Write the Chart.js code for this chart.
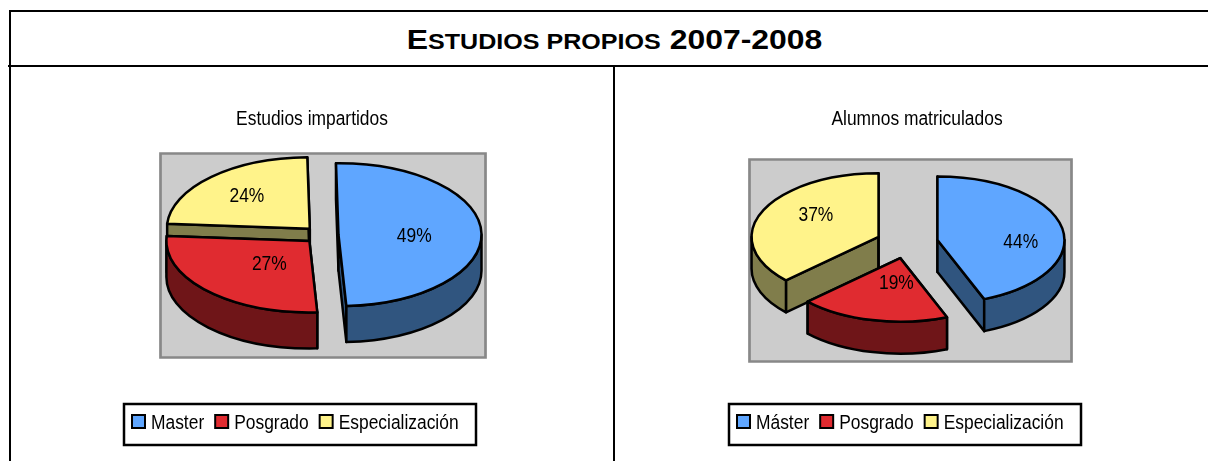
<!DOCTYPE html>
<html lang="es">
<head>
<meta charset="utf-8">
<title>Estudios propios 2007-2008</title>
<script src="https://cdn.jsdelivr.net/npm/chart.js@4"></script>
<style>
  html, body { margin: 0; padding: 0; background: #fff; width: 1208px; height: 461px; overflow: hidden; }
  .rule { position: absolute; background: #000; }
  canvas { position: absolute; }
  #heading { position: absolute; left: 0; top: 12px; width: 1229px; height: 53px; text-align: center;
    font: bold 28px/56px "Liberation Sans", sans-serif; color: #000; white-space: nowrap; transform: scaleX(1.14); }
  #heading span { font-size: 22px; text-transform: uppercase; }
</style>
</head>
<body>
<div id="heading">E<span>studios propios</span> 2007-2008</div>
<div class="rule" style="left:9px;top:10px;width:1199px;height:2px"></div>
<div class="rule" style="left:8px;top:65px;width:1200px;height:2px"></div>
<div class="rule" style="left:9px;top:10px;width:2px;height:451px"></div>
<div class="rule" style="left:613px;top:66px;width:2px;height:395px"></div>
<canvas id="left" width="602" height="394" style="left:11px;top:67px"></canvas>
<canvas id="right" width="593" height="394" style="left:615px;top:67px"></canvas>
<script>
const leftTitle = "Estudios impartidos";
const rightTitle = "Alumnos matriculados";
const leftCategories = ["Master", "Posgrado", "Especialización"];
const rightCategories = ["Máster", "Posgrado", "Especialización"];
const leftValues = [49.4, 27, 23.6];
const rightValues = [44, 19, 37];
const topColors = ["#5FA6FF", "#E02B30", "#FFF38A"];
const wallColors = ["#30557F", "#6F1518", "#807D4B"];

const TEXT_FONT = '"Liberation Sans", sans-serif';
const NARROW = 0.87;

const leftLayout = {
  origin: [11, 67], centre: [321.5, 235], radius: 143, squash: 0.5, depth: 36, explode: 17, rotation: -1,
  plot: [160, 153, 325, 204], legendBox: [124, 404, 352, 41], legendStart: 136, titleX: 312,
  labelPolar: [[0.53, 90], [0.415, 222.5], [0.645, 317]]
};
const rightLayout = {
  origin: [615, 67], centre: [907, 243], radius: 127, squash: 0.5, depth: 32, explode: 31, rotation: 0,
  plot: [749, 159, 322, 202], legendBox: [729, 404, 352, 41], legendStart: 741, titleX: 917,
  labelPolar: [[0.656, 91.4], [0.376, 184.6], [0.61, 306]]
};

function condense(ctx) {
  const fill = ctx.fillText.bind(ctx), measure = ctx.measureText.bind(ctx);
  ctx.fillText = (t, x, y) => {
    ctx.save();
    ctx.translate(x, y + 1.5);
    ctx.scale(NARROW, 1);
    fill(t, 0, 0);
    ctx.restore();
  };
  ctx.measureText = (t) => ({ width: measure(t).width * NARROW });
  return ctx;
}

const pie3d = {
  id: "pie3d",
  afterLayout(chart, args, o) {
    const L = o.layout;
    const lg = chart.legend, tt = chart.titleBlock;
    const p = lg.options.labels.padding;
    const lh = lg.bottom - lg.top;
    lg.left = L.legendStart - L.origin[0] - p;
    lg.right = chart.width + 40;
    lg.top = 411.5 - L.origin[1] - p;
    lg.bottom = lg.top + lh;
    const th = tt.bottom - tt.top, tw = tt.right - tt.left;
    tt.left = L.titleX - L.origin[0] - tw / 2;
    tt.right = tt.left + tw;
    tt.top = 118 - L.origin[1] - th / 2;
    tt.bottom = tt.top + th;
  },
  beforeDraw(chart, args, o) {
    const L = o.layout, c = chart.ctx;
    c.save();
    c.fillStyle = "#CCCCCC";
    c.strokeStyle = "#888888";
    c.lineWidth = 2.7;
    c.beginPath();
    c.rect(L.plot[0] - L.origin[0] + 0.5, L.plot[1] - L.origin[1] + 0.5, L.plot[2], L.plot[3]);
    c.fill();
    c.stroke();
    c.strokeStyle = "#000";
    c.lineWidth = 2.5;
    c.strokeRect(L.legendBox[0] - L.origin[0], L.legendBox[1] - L.origin[1], L.legendBox[2], L.legendBox[3]);
    c.restore();
  },
  beforeDatasetDraw(chart, args, o) {
    const L = o.layout, c = chart.ctx;
    const cx = L.centre[0] - L.origin[0], cy = L.centre[1] - L.origin[1];
    const k = L.squash, d = L.explode, h = L.depth;
    const arcs = chart.getDatasetMeta(args.index).data.map((arc, i) => {
      const mid = (arc.startAngle + arc.endAngle) / 2;
      return { arc, i, mid, ax: cx + Math.cos(mid) * d, ay: cy + Math.sin(mid) * d * k };
    });
    const ordered = arcs.slice().sort((a, b) => a.ay - b.ay);
    c.save();
    c.lineJoin = "round";
    c.strokeStyle = "#000";
    c.lineWidth = 2.5;
    for (const s of ordered) {
      const { arc, ax, ay, i } = s;
      const r = arc.outerRadius, ry = r * k;
      c.fillStyle = wallColors[i];
      for (const ang of [arc.startAngle, arc.endAngle]) {
        const rx0 = ax + Math.cos(ang) * r, ry0 = ay + Math.sin(ang) * ry;
        c.beginPath();
        c.moveTo(ax, ay); c.lineTo(rx0, ry0); c.lineTo(rx0, ry0 + h); c.lineTo(ax, ay + h); c.closePath();
        c.fill(); c.stroke();
      }
      for (let n = -1; n <= 1; n++) {
        const lo = Math.max(arc.startAngle, 2 * Math.PI * n);
        const hi = Math.min(arc.endAngle, Math.PI + 2 * Math.PI * n);
        if (hi > lo) {
          c.beginPath();
          c.ellipse(ax, ay, r, ry, 0, lo, hi);
          c.ellipse(ax, ay + h, r, ry, 0, hi, lo, true);
          c.closePath();
          c.fill(); c.stroke();
        }
      }
      c.save();
      c.translate(ax, ay);
      c.scale(1, k);
      c.translate(-arc.x, -arc.y);
      arc.draw(c);
      c.restore();
      c.beginPath();
      c.moveTo(ax, ay);
      c.ellipse(ax, ay, r, ry, 0, arc.startAngle, arc.endAngle);
      c.closePath();
      c.stroke();
    }
    c.fillStyle = "#000";
    c.font = '20px ' + TEXT_FONT;
    c.textAlign = "center";
    c.textBaseline = "middle";
    const values = chart.data.datasets[args.index].data;
    for (const s of arcs) {
      const [frac, deg] = L.labelPolar[s.i];
      const a = deg * Math.PI / 180;
      const r = s.arc.outerRadius;
      c.fillText(Math.round(values[s.i]) + "%", s.ax + Math.sin(a) * r * frac, s.ay - Math.cos(a) * r * k * frac);
    }
    c.restore();
    return false;
  }
};

function makePie(id, title, categories, values, layout) {
  const ctx = condense(document.getElementById(id).getContext("2d"));
  return new Chart(ctx, {
    type: "pie",
    plugins: [pie3d],
    data: {
      labels: categories,
      datasets: [{ data: values, backgroundColor: topColors, borderWidth: 0, clip: false }]
    },
    options: {
      responsive: false,
      animation: false,
      events: [],
      rotation: layout.rotation,
      radius: layout.radius,
      layout: { padding: 0 },
      plugins: {
        pie3d: { layout },
        tooltip: { enabled: false },
        title: { display: true, text: title, color: "#000", padding: 0,
                 font: { family: TEXT_FONT, size: 20, weight: "normal" } },
        legend: {
          display: true, position: "bottom", align: "start",
          labels: {
            usePointStyle: true, boxWidth: 5, boxHeight: 13, padding: 15, color: "#000",
            font: { family: TEXT_FONT, size: 20 },
            generateLabels: (chart) => chart.data.labels.map((text, i) => ({
              text, index: i, hidden: false, fillStyle: topColors[i], strokeStyle: "#000",
              lineWidth: 2, pointStyle: "rect", fontColor: "#000"
            }))
          }
        }
      }
    }
  });
}

makePie("left", leftTitle, leftCategories, leftValues, leftLayout);
makePie("right", rightTitle, rightCategories, rightValues, rightLayout);
</script>
</body>
</html>
